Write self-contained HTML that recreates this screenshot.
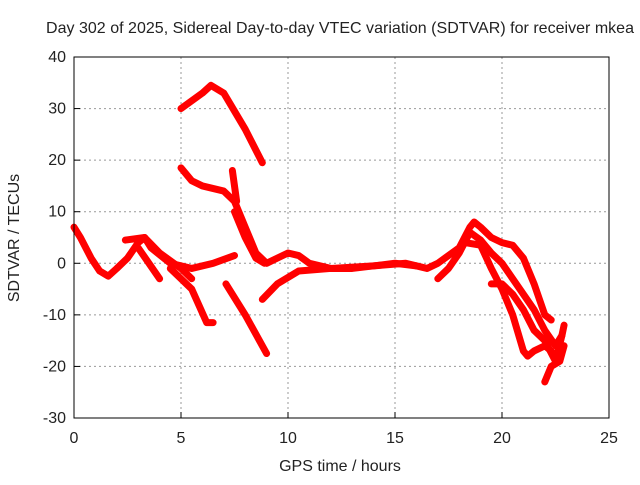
<!DOCTYPE html>
<html><head><meta charset="utf-8"><style>
body{margin:0;background:#fff;}
svg text{font-family:"Liberation Sans",sans-serif;font-size:16px;fill:#222;}
</style></head><body>
<svg width="640" height="480">
<text x="340" y="33" text-anchor="middle" textLength="588">Day 302 of 2025, Sidereal Day-to-day VTEC variation (SDTVAR) for receiver mkea</text>
<g id="grid"></g>
<g id="series"></g>
<rect x="74" y="57" width="535" height="361" fill="none" stroke="#000" stroke-width="1"/>
<g id="ticks"></g>
<text x="340" y="471" text-anchor="middle">GPS time / hours</text>
<text transform="translate(19,238) rotate(-90)" text-anchor="middle">SDTVAR / TECUs</text>
</svg>
<script>
const xTicks=[0,5,10,15,20,25];
const yTicks=[-30,-20,-10,0,10,20,30,40];
const seriesNames=['a','b1','b2','c','d','e','e2','f','g','h','i','j','k','l'];
const s_a=[[0,7],[0.3,5],[0.8,1],[1.2,-1.5],[1.6,-2.5],[2,-1],[2.5,1],[3,4],[3.3,5],[3.6,3],[4.5,0],[5.5,-1],[6.5,0],[7.5,1.5]];
const s_b1=[[2.4,4.5],[3.3,5],[4,2],[5,-1],[5.5,-3]];
const s_b2=[[4.5,-1],[5,-3],[5.5,-5],[6.2,-11.5],[6.5,-11.5]];
const s_c=[[3,3],[3.5,0],[4,-3]];
const s_d=[[5,30],[6,33],[6.4,34.5],[7,33],[8,26],[8.8,19.5]];
const s_e=[[5,18.5],[5.5,16],[6,15],[7,14],[7.5,12],[8,7],[8.5,2],[9,0],[9.5,1],[10,2],[10.5,1.5],[11,0],[12,-1],[13,-1],[15,0],[16,-0.5]];
const s_e2=[[7.5,10],[8,5],[8.5,1],[8.9,0]];
const s_f=[[7.4,18],[7.6,12]];
const s_g=[[7.1,-4],[8,-10],[9,-17.5]];
const s_h=[[8.8,-7],[9.5,-4],[10.5,-1.5],[12,-1],[14,-0.5],[15.5,0],[16.5,-1],[17,0],[18,3],[18.5,7],[18.7,8],[19,7],[19.5,5],[20,4],[20.5,3.5],[21,1],[21.5,-4],[22,-10],[22.3,-11]];
const s_i=[[17,-3],[17.5,-1],[18,2],[18.5,6],[19,4.5],[19.5,2],[20,0],[20.5,-3],[21,-6],[21.5,-9],[22,-13],[22.5,-16],[22.8,-14]];
const s_j=[[18.3,4],[19,3.5],[19.5,-1],[20,-5],[20.5,-10],[21,-17],[21.2,-18],[21.5,-17],[22,-16],[22.3,-17],[22.5,-18]];
const s_k=[[19.5,-4],[20,-4],[20.5,-6],[21,-9],[21.5,-13],[22,-15],[22.5,-19],[22.8,-14],[22.9,-12]];
const s_l=[[22,-23],[22.3,-20],[22.7,-19],[22.9,-16]];
const allSeries=[s_a,s_b1,s_b2,s_c,s_d,s_e,s_e2,s_f,s_g,s_h,s_i,s_j,s_k,s_l];
const X=v=>74+(v-0)*(535/25);
const Y=v=>418-(v+30)*(361/70);
const NS='http://www.w3.org/2000/svg';
const grid=document.getElementById('grid'),ticks=document.getElementById('ticks'),ser=document.getElementById('series');
function mk(tag,attrs,parent){const e=document.createElementNS(NS,tag);for(const k in attrs)e.setAttribute(k,attrs[k]);parent.appendChild(e);return e;}
xTicks.forEach(t=>{
  if(t>0&&t<25){const l=mk('line',{x1:X(t),x2:X(t),y1:57,y2:418,stroke:'#999','stroke-dasharray':'2,3'},grid);
  
  }
  mk('line',{x1:X(t),x2:X(t),y1:418,y2:412,stroke:'#000'},ticks);
  const tx=mk('text',{x:X(t),y:443,'text-anchor':'middle'},ticks);tx.textContent=t;
  
  
});
yTicks.forEach(t=>{
  if(t>-30&&t<40){const l=mk('line',{x1:74,x2:609,y1:Y(t),y2:Y(t),stroke:'#999','stroke-dasharray':'2,3'},grid);
  
  }
  mk('line',{x1:74,x2:80,y1:Y(t),y2:Y(t),stroke:'#000'},ticks);
  const tx=mk('text',{x:66,y:Y(t)+5,'text-anchor':'end'},ticks);tx.textContent=t;
  
  
});
allSeries.forEach((s,i)=>{
  const p=mk('polyline',{points:s.map(d=>X(d[0])+','+Y(d[1])).join(' '),fill:'none',stroke:'#ff0000','stroke-width':7,'stroke-linejoin':'round','stroke-linecap':'round'},ser);
  
  
});
</script>
</body></html>
